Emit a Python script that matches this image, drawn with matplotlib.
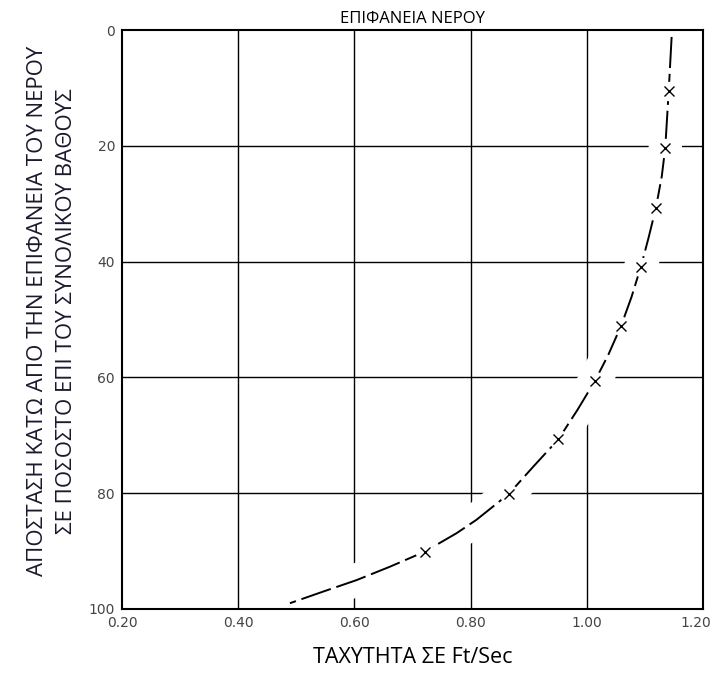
import matplotlib
matplotlib.use("Agg")
import matplotlib.pyplot as plt
import matplotlib.transforms as mtransforms

# Velocity profile
curve_depth = [1.2, 10.5, 20.4, 25.3, 30.7, 36.0, 40.9, 46.1, 51.1, 56.1, 60.6,
               65.6, 70.7, 75.4, 80.1, 84.6, 86.9, 90.1, 92.7, 95.0, 97.0, 99.0]
curve_speed = [1.146, 1.141, 1.135, 1.129, 1.119, 1.106, 1.093, 1.077, 1.059,
               1.037, 1.014, 0.984, 0.951, 0.908, 0.866, 0.810, 0.776, 0.721,
               0.661, 0.604, 0.546, 0.489]

# measured points (the x marks)
point_depth = [10.5, 20.4, 30.7, 40.9, 51.1, 60.6, 70.7, 80.1, 90.1]
point_speed = [1.141, 1.135, 1.119, 1.093, 1.059, 1.014, 0.951, 0.866, 0.721]

x_ticks = [0.20, 0.40, 0.60, 0.80, 1.00, 1.20]
y_ticks = [0, 20, 40, 60, 80, 100]

title = "ΕΠΙΦΑΝΕΙΑ ΝΕΡΟΥ"
x_label = "ΤΑΧΥΤΗΤΑ ΣΕ Ft/Sec"
y_label = "ΑΠΟΣΤΑΣΗ ΚΑΤΩ ΑΠΟ ΤΗΝ ΕΠΙΦΑΝΕΙΑ ΤΟΥ ΝΕΡΟΥ\nΣΕ ΠΟΣΟΣΤΟ ΕΠΙ ΤΟΥ ΣΥΝΟΛΙΚΟΥ ΒΑΘΟΥΣ"

fig = plt.figure(figsize=(7.14, 6.75), dpi=100)
ax = fig.add_axes([122 / 714, 1 - 609 / 675, (703 - 122) / 714, (609 - 30) / 675])

# grid lines drawn by hand so the curve can cut through them
for x in x_ticks[1:-1]:
    ax.axvline(x, color="black", linewidth=1.0, zorder=1)
for y in y_ticks[1:-1]:
    ax.axhline(y, color="black", linewidth=1.0, zorder=1)

# white band under the curve breaks the grid lines, like the original drawing
ax.plot(curve_speed, curve_depth, color="white", linewidth=24,
        solid_capstyle="butt", solid_joinstyle="round", zorder=1.5)
ax.plot(curve_speed, curve_depth, color="black", linewidth=1.4,
        dashes=(16, 3), solid_joinstyle="round", zorder=2)
ax.plot(point_speed, point_depth, linestyle="none", marker="o", markersize=14,
        markerfacecolor="white", markeredgecolor="none", zorder=2.5)
ax.plot(point_speed, point_depth, linestyle="none", marker="x", markersize=6.5,
        markeredgewidth=1.0, color="black", zorder=3)

ax.set_xlim(0.20, 1.20)
ax.set_ylim(100, 0)
ax.set_xticks(x_ticks)
ax.set_xticklabels([f"{v:.2f}" for v in x_ticks])
ax.set_yticks(y_ticks)
ax.tick_params(length=0, labelsize=10, labelcolor="#444444", pad=5)
# keep the last x label inside the picture
last = ax.get_xticklabels()[-1]
last.set_horizontalalignment("right")
last.set_transform(last.get_transform() + mtransforms.ScaledTranslation(8 / 100, 0, fig.dpi_scale_trans))

for s in ax.spines.values():
    s.set_linewidth(1.5)
    s.set_zorder(4)

ax.set_title(title, fontsize=12, family="Open Sans", pad=5)
ax.set_xlabel(x_label, fontsize=15.5, family="Open Sans", labelpad=12)
ax.set_ylabel(y_label, fontsize=16, family="Open Sans",
              linespacing=1.45, color="#1a1a2e")
ax.yaxis.set_label_coords(-0.078, 0.515)

plt.savefig("out.png", dpi=100, facecolor="white")
